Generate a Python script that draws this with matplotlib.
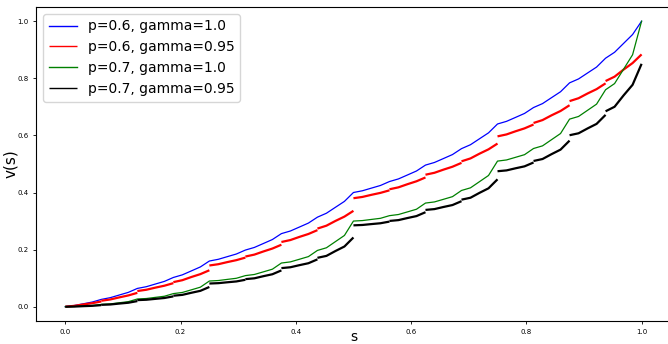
import numpy as np
import matplotlib
matplotlib.use('Agg')
import matplotlib.pyplot as plt

# value curves, s = 0, 1/64, ..., 1
v_p06_g10 = [0, 0.0041, 0.0102, 0.0164, 0.0256, 0.0317, 0.041, 0.0502, 0.064, 0.0701,
             0.0794, 0.0886, 0.1024, 0.1116, 0.1254, 0.1393, 0.16, 0.1661, 0.1754, 0.1846,
             0.1984, 0.2076, 0.2214, 0.2353, 0.256, 0.2652, 0.279, 0.2929, 0.3136, 0.3274,
             0.3482, 0.3689, 0.4, 0.4061, 0.4154, 0.4246, 0.4384, 0.4476, 0.4614, 0.4753,
             0.496, 0.5052, 0.519, 0.5329, 0.5536, 0.5674, 0.5882, 0.6089, 0.64, 0.6492,
             0.663, 0.6769, 0.6976, 0.7114, 0.7322, 0.7529, 0.784, 0.7978, 0.8186, 0.8393,
             0.8704, 0.8911, 0.9222, 0.9533, 1.0]

v_p07_g10 = [0, 0.0007, 0.0024, 0.0041, 0.0081, 0.0098, 0.0138, 0.0177, 0.027, 0.0287,
             0.0327, 0.0366, 0.0459, 0.0499, 0.0591, 0.0684, 0.09, 0.0917, 0.0957, 0.0996,
             0.1089, 0.1129, 0.1221, 0.1314, 0.153, 0.157, 0.1662, 0.1755, 0.1971, 0.2064,
             0.228, 0.2496, 0.3, 0.3017, 0.3057, 0.3096, 0.3189, 0.3229, 0.3321, 0.3414,
             0.363, 0.367, 0.3762, 0.3855, 0.4071, 0.4164, 0.438, 0.4596, 0.51, 0.514,
             0.5232, 0.5325, 0.5541, 0.5634, 0.585, 0.6066, 0.657, 0.6663, 0.6879, 0.7095,
             0.7599, 0.7815, 0.8319, 0.8824, 1.0]

# discounted curves jump at every 1/16: 16 pieces, 5 values each (last one = value just before the jump)
v_p06_g095 = [0, 0.003, 0.0079, 0.0124, 0.0184,
              0.0209, 0.0254, 0.0327, 0.0395, 0.0485,
              0.0549, 0.0594, 0.0668, 0.0735, 0.0825,
              0.0861, 0.0929, 0.104, 0.1141, 0.1276,
              0.1444, 0.1489, 0.1563, 0.1631, 0.172,
              0.1757, 0.1825, 0.1935, 0.2037, 0.2171,
              0.2267, 0.2335, 0.2445, 0.2547, 0.2682,
              0.2736, 0.2838, 0.3004, 0.3156, 0.3358,
              0.38, 0.3845, 0.3919, 0.3987, 0.4076,
              0.4113, 0.4181, 0.4291, 0.4393, 0.4527,
              0.4623, 0.4691, 0.4801, 0.4903, 0.5038,
              0.5092, 0.5194, 0.536, 0.5512, 0.5714,
              0.5966, 0.6034, 0.6144, 0.6246, 0.6381,
              0.6435, 0.6537, 0.6703, 0.6855, 0.7057,
              0.7201, 0.7302, 0.7468, 0.762, 0.7823,
              0.7904, 0.8057, 0.8305, 0.8534, 0.8837]

v_p07_g095 = [0, 0.0005, 0.0019, 0.0031, 0.0056,
              0.0066, 0.0078, 0.011, 0.0139, 0.0197,
              0.0231, 0.0244, 0.0275, 0.0305, 0.0362,
              0.0385, 0.0415, 0.0488, 0.0556, 0.0691,
              0.0812, 0.0825, 0.0856, 0.0885, 0.0943,
              0.0966, 0.0995, 0.1069, 0.1137, 0.1272,
              0.1352, 0.1382, 0.1455, 0.1523, 0.1658,
              0.1712, 0.178, 0.195, 0.2109, 0.2425,
              0.285, 0.2863, 0.2894, 0.2923, 0.2981,
              0.3004, 0.3033, 0.3106, 0.3174, 0.331,
              0.339, 0.3419, 0.3493, 0.3561, 0.3696,
              0.3749, 0.3817, 0.3988, 0.4147, 0.4462,
              0.4745, 0.4774, 0.4848, 0.4916, 0.5051,
              0.5104, 0.5173, 0.5343, 0.5502, 0.5817,
              0.6006, 0.6074, 0.6244, 0.6403, 0.6719,
              0.6844, 0.7003, 0.7401, 0.7772, 0.8507]

s_full = np.linspace(0, 1, 65)
n_pieces = 16
piece_s = np.arange(n_pieces)[:, None] / 16 + np.arange(5)[None, :] / 64


def plot_pieces(ax, values, color, label, lw):
    vals = np.array(values).reshape(n_pieces, 5)
    for i in range(n_pieces):
        ax.plot(piece_s[i], vals[i], color=color, lw=lw,
                label=label if i == 0 else None, solid_capstyle='butt')


fig = plt.figure(figsize=(6.68, 3.44), dpi=100)
ax = fig.add_axes([0.0546, 0.0669, 0.949, 0.913])

ax.plot(s_full, v_p06_g10, color='b', lw=0.9, label='p=0.6, gamma=1.0')
plot_pieces(ax, v_p06_g095, 'r', 'p=0.6, gamma=0.95', 1.6)
ax.plot(s_full, v_p07_g10, color='g', lw=0.9, label='p=0.7, gamma=1.0')
plot_pieces(ax, v_p07_g095, 'k', 'p=0.7, gamma=0.95', 1.6)

ax.set_xlim(-0.05, 1.05)
ax.set_ylim(-0.05, 1.05)
ax.set_xticks([0.0, 0.2, 0.4, 0.6, 0.8, 1.0])
ax.set_yticks([0.0, 0.2, 0.4, 0.6, 0.8, 1.0])
ax.tick_params(labelsize=5, length=2, width=0.6, pad=3.5)
ax.set_xlabel('s', fontsize=10, labelpad=-3)
ax.set_ylabel('v(s)', fontsize=11, labelpad=0)

leg = ax.legend(loc='upper left', fontsize=10)
for line in leg.get_lines():
    line.set_linewidth(1.0)

fig.savefig('out.png', dpi=100)
